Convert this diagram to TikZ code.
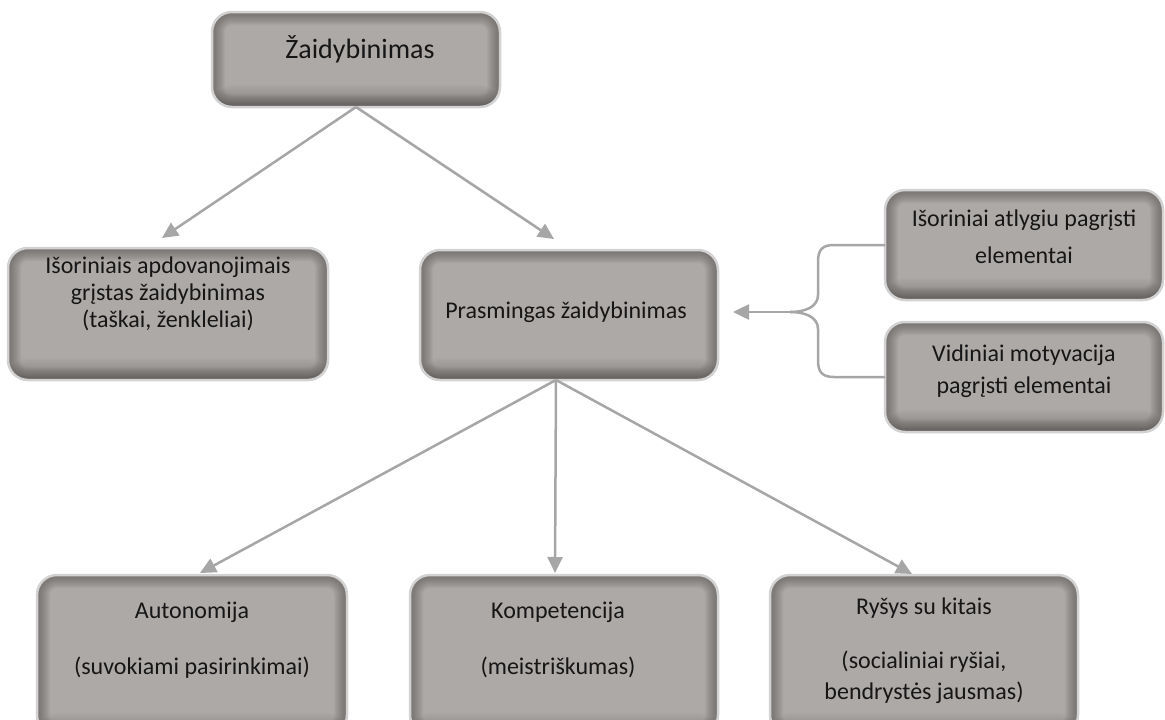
\documentclass[tikz,border=0pt]{standalone}
\usepackage{fontspec}
\setmainfont{Carlito}
\usetikzlibrary{arrows.meta,calc}

\definecolor{boxfill}{HTML}{ADA9A7}
\definecolor{boxedge}{HTML}{4F4B49}
\definecolor{boxline}{HTML}{D2D2D2}
\definecolor{connc}{HTML}{A6A6A6}
\definecolor{ink}{HTML}{161616}

\tikzset{
  gbox/.style={draw=boxline, line width=2.5pt, fill=boxfill, rounded corners=20pt,
    inner sep=0pt, outer sep=0pt,
    path picture={
      % soft inner shadow along all edges
      \foreach \w in {2,4,...,26}
        \draw[boxedge, line width=\w pt, draw opacity=0.055, rounded corners=20pt]
          (path picture bounding box.south west) rectangle (path picture bounding box.north east);
      % heavier shadow along the lower edge
      \foreach \h in {2,4,...,22}
        \fill[boxedge, fill opacity=0.035]
          (path picture bounding box.south west) rectangle
          ($(path picture bounding box.south east)+(0pt,\h pt)$);
    }},
  txt/.style={text=ink, align=center, inner sep=0pt,
    font=\fontsize{24}{27}\selectfont},
  ttl/.style={text=ink, inner sep=0pt, font=\fontsize{28}{32}\selectfont},
  link/.style={draw=connc, line width=2.5pt},
  arr/.style={link, -{Triangle[length=16pt,width=15pt]}},
}

\begin{document}
\begin{tikzpicture}[x=1pt,y=-1pt]
\useasboundingbox (0,0) rectangle (1165,720);
\clip (0,0) rectangle (1165,720);

% boxes
\node[gbox, minimum width=288pt, minimum height=95pt]  (top) at (356,59.5) {};
\node[gbox, minimum width=320pt, minimum height=132pt] (ext) at (168,314) {};
\node[gbox, minimum width=298pt, minimum height=130pt] (mid) at (569,315) {};
\node[gbox, minimum width=278pt, minimum height=110pt] (r1)  at (1024,245) {};
\node[gbox, minimum width=278pt, minimum height=110pt] (r2)  at (1024,377) {};
\node[gbox, minimum width=310pt, minimum height=160pt] (b1)  at (192,655) {};
\node[gbox, minimum width=308pt, minimum height=160pt] (b2)  at (564,655) {};
\node[gbox, minimum width=308pt, minimum height=160pt] (b3)  at (924,655) {};

% texts
\node[ttl] (topt) at (360,49) {Žaidybinimas};
\node[txt] (extt) at (168,294) {Išoriniais apdovanojimais\\grįstas žaidybinimas\\(taškai, ženkleliai)};
\node[txt] (midt) at (566,312) {Prasmingas žaidybinimas};
\node[txt] (r1t)  at (1024,237) {Išoriniai atlygiu pagrįsti\\[10pt]elementai};
\node[txt] (r2t)  at (1024,371) {Vidiniai motyvacija\\[5pt]pagrįsti elementai};
\node[txt] (b1t)  at (192,640) {Autonomija\\[29pt](suvokiami pasirinkimai)};
\node[txt] (b2t)  at (558,640) {Kompetencija\\[29pt](meistriškumas)};
\node[txt] (b3t)  at (924,651) {Ryšys su kitais\\[27pt](socialiniai ryšiai,\\[4pt]bendrystės jausmas)};

% connectors from the top box
\draw[arr] (top.south) -- ($(ext.north)+(-6,-10)$);
\draw[arr] (top.south) -- ($(mid.north)+(-15,-11)$);

% connectors from the middle box
\coordinate (fork) at ($(mid.south)+(-13,0)$);
\draw[arr] (fork) -- ($(b1.north)+(8,-2)$);
\draw[arr] (fork) -- ($(b2.north)+(-9,-2)$);
\draw[arr] (fork) -- ($(b3.north)+(-12,-1)$);

% brace joining the two element boxes
\coordinate (jn) at (790,312);
\draw[link] (r1.west) -- (834,245) .. controls (822,245) and (818,250) .. (818,262)
  -- (818,295) .. controls (818,307) and (805,312) .. (jn);
\draw[link] (r2.west) -- (834,377) .. controls (822,377) and (818,372) .. (818,360)
  -- (818,329) .. controls (818,317) and (805,312) .. (jn);
\draw[arr] (jn) -- ($(mid.east)+(15,-3)$);
\end{tikzpicture}
\end{document}
